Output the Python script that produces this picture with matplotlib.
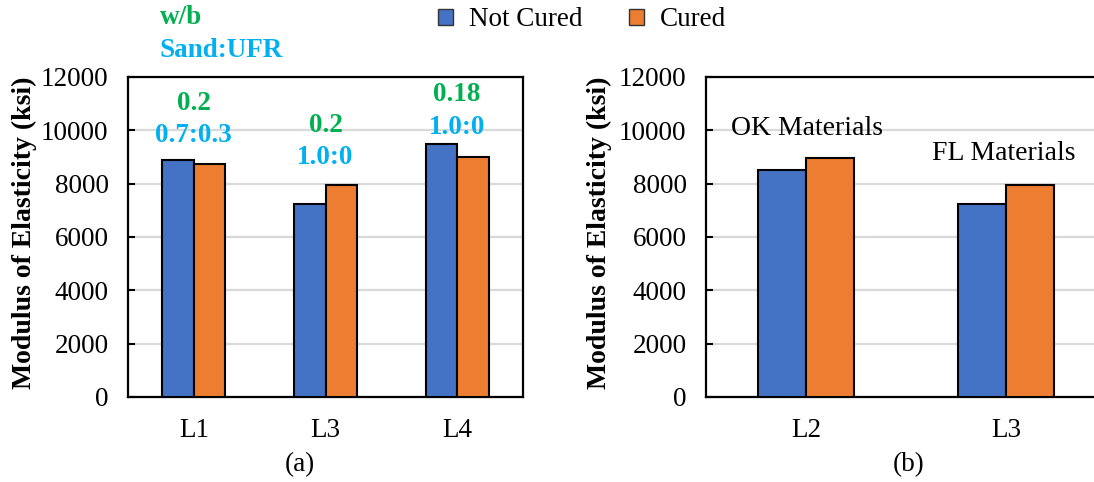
import matplotlib
matplotlib.use("Agg")
import matplotlib.pyplot as plt
from matplotlib.patches import Patch
import numpy as np

# ---- data ----
mixes_a = ["L1", "L3", "L4"]
not_cured_a = [8900, 7250, 9500]
cured_a = [8750, 7950, 9000]
wb_a = ["0.2", "0.2", "0.18"]
sand_ufr_a = ["0.7:0.3", "1.0:0", "1.0:0"]

mixes_b = ["L2", "L3"]
not_cured_b = [8500, 7250]
cured_b = [8950, 7950]
material_labels = ["OK Materials", "FL Materials"]

series_names = ["Not Cured", "Cured"]
y_ticks = [0, 2000, 4000, 6000, 8000, 10000, 12000]

# ---- style ----
BLUE = "#4472C4"
ORANGE = "#ED7D31"
GREEN = "#00B050"
CYAN = "#00B0F0"
GRID = "#D9D9D9"
SERIF = ["Liberation Serif", "DejaVu Serif"]

plt.rcParams["font.family"] = SERIF
TICK_FS = 19.5

W, H = 1094, 482
fig = plt.figure(figsize=(W / 100, H / 100), dpi=100)


def px_rect(left, right, top, bottom):
    return [left / W, (H - bottom) / H, (right - left) / W, (bottom - top) / H]


ax_a = fig.add_axes(px_rect(128, 523, 77, 397))
ax_b = fig.add_axes(px_rect(706, 1106, 77, 397))

bar_w = 0.24


def draw_panel(ax, cats, s1, s2):
    x = np.arange(len(cats))
    ax.bar(x - bar_w / 2, s1, bar_w, color=BLUE, edgecolor="black",
           linewidth=1.5, zorder=3)
    ax.bar(x + bar_w / 2, s2, bar_w, color=ORANGE, edgecolor="black",
           linewidth=1.5, zorder=3)
    ax.set_xlim(-0.5, len(cats) - 0.5)
    ax.set_ylim(0, 12000)
    ax.set_yticks(y_ticks)
    ax.set_xticks(x)
    ax.set_xticklabels(cats)
    ax.yaxis.grid(True, color=GRID, linewidth=1.6, zorder=0)
    ax.set_axisbelow(True)
    ax.tick_params(axis="y", direction="in", length=5, width=1.5, pad=14,
                   labelsize=TICK_FS)
    ax.tick_params(axis="x", length=0, pad=15, labelsize=TICK_FS)
    for side in ["left", "bottom", "top", "right"]:
        ax.spines[side].set_linewidth(1.6)
        ax.spines[side].set_color("black")
    return x


xa = draw_panel(ax_a, mixes_a, not_cured_a, cured_a)
xb = draw_panel(ax_b, mixes_b, not_cured_b, cured_b)

# y-axis titles
for xc in (24, 599):
    fig.text(xc / W, 1 - 233 / H, "Modulus of Elasticity (ksi)", rotation=90,
             ha="center", va="center", fontsize=20, fontweight="bold")

# mix annotations above panel (a)
wb_y = [11000, 10175, 11340]
ratio_y = [9800, 8975, 10100]
for xi, wb, sr, yg, yc in zip(xa, wb_a, sand_ufr_a, wb_y, ratio_y):
    ax_a.text(xi, yg, wb, ha="center", va="center", color=GREEN,
              fontsize=19.5, fontweight="bold")
    ax_a.text(xi, yc, sr, ha="center", va="center", color=CYAN,
              fontsize=19.5, fontweight="bold")

ax_a.text(0.081, 1.1875, "w/b", transform=ax_a.transAxes, ha="left",
          va="center", color=GREEN, fontsize=19.5, fontweight="bold")
ax_a.text(0.081, 1.084, "Sand:UFR", transform=ax_a.transAxes, ha="left",
          va="center", color=CYAN, fontsize=19.5, fontweight="bold")

# material source labels in panel (b)
ax_b.text(-0.375, 10060, material_labels[0], ha="left", va="center",
          fontsize=20)
ax_b.text(0.63, 9125, material_labels[1], ha="left", va="center",
          fontsize=20)

# panel captions
fig.text(300 / W, 1 - 465 / H, "(a)", ha="center", va="center", fontsize=19.5)
fig.text(909 / W, 1 - 465 / H, "(b)", ha="center", va="center", fontsize=19.5)

# shared legend
handles = [Patch(facecolor=BLUE, edgecolor="#333333", linewidth=1.0),
           Patch(facecolor=ORANGE, edgecolor="#333333", linewidth=1.0)]
fig.legend(handles, series_names, loc="center", ncol=2, frameon=False,
           bbox_to_anchor=(582 / W, 1 - 20 / H), fontsize=19.5,
           handlelength=0.55, handleheight=0.55, handletextpad=0.6,
           columnspacing=1.7)

fig.savefig("out.png", dpi=100)
